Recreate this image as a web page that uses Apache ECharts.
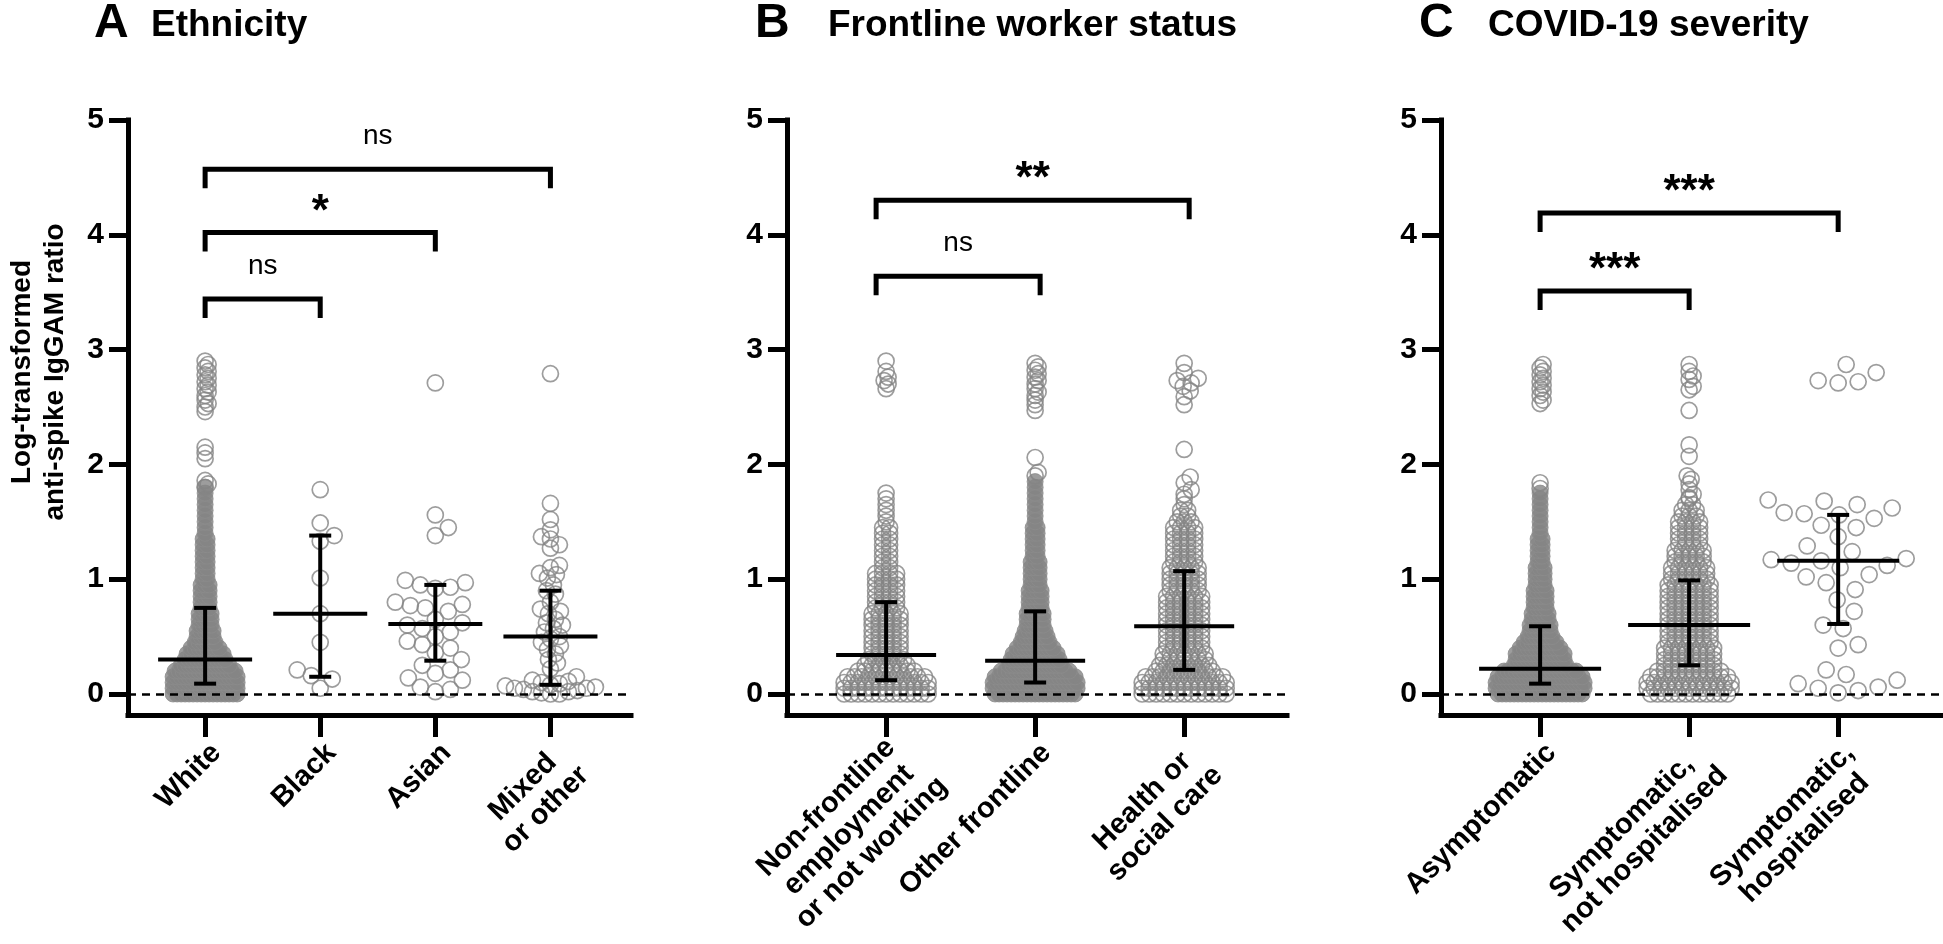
<!DOCTYPE html>
<html>
<head>
<meta charset="utf-8">
<script src="https://cdn.jsdelivr.net/npm/echarts@6/dist/echarts.min.js"></script>
<style>
html,body{margin:0;padding:0;background:#fff;}
#c{width:1943px;height:944px;}
</style>
</head>
<body>
<div id="c"></div>
<script>
// ================= DATA =================
const ethnicityCategories = ['White', 'Black', 'Asian', 'Mixed\nor other'];
const frontlineCategories = ['Non-frontline\nemployment\nor not working', 'Other frontline', 'Health or\nsocial care'];
const severityCategories = ['Asymptomatic', 'Symptomatic,\nnot hospitalised', 'Symptomatic,\nhospitalised'];
const yTickValues = [0, 1, 2, 3, 4, 5];
const yAxisTitle = 'Log-transformed\nanti-spike IgGAM ratio';
const panelLetters = ['A', 'B', 'C'];
const panelTitles = ['Ethnicity', 'Frontline worker status', 'COVID-19 severity'];

// value of each row of the dense swarms
const swarmLevels = [0.00,0.05,0.10,0.15,0.20,0.25,0.30,0.35,0.40,0.45,0.50,0.55,0.60,0.65,0.70,0.75,0.80,0.85,0.90,0.95,
                     1.00,1.05,1.10,1.15,1.20,1.25,1.30,1.35,1.40,1.45,1.50,1.55,1.60,1.65,1.70,1.75,1.80,1.85];
// circles across each row
const whiteRows          = [17,17,17,17,16,13,11,10,8,6,5,5,4,4,4,3,3,3,3,3,2,2,2,2,2,2,2,2,1,1,1,1,1,1,1,1,1,0];
const otherFrontlineRows = [21,22,22,21,18,14,13,12,10,8,7,6,5,5,5,4,4,4,4,3,3,3,3,3,2,2,2,2,2,2,1,1,1,1,1,1,1,1];
const asymptomaticRows   = [22,23,23,22,19,14,13,13,11,9,7,6,6,5,5,4,4,4,4,3,3,3,3,2,2,2,2,2,1,1,1,1,1,1,1,1,0,0];
const nonFrontlineRows   = [13,13,13,12,9,7,6,5,5,5,5,5,5,5,5,4,4,4,4,4,4,4,2,2,2,2,2,2,2,2,1,1,1,1,1,0,0,0];
const healthCareRows     = [13,13,13,12,9,8,7,7,6,6,6,6,6,6,6,6,6,6,5,5,5,5,5,4,4,4,4,4,4,4,3,2,2,1,1,0,0,0];
const sympNotHospRows    = [12,13,13,12,10,8,8,8,8,7,7,7,7,7,7,7,7,7,7,7,6,6,6,5,5,5,4,4,4,4,4,3,3,2,1,0,0,0];

// individually visible points
const whitePoints = [1.80,1.83,1.86,2.05,2.10,2.15,2.46,2.50,2.53,2.56,2.60,2.63,2.66,2.69,2.72,2.75,2.78,2.81,2.84,2.87,2.90];
const blackPoints = [0.05,0.13,0.16,0.21,0.45,0.70,1.01,1.33,1.38,1.49,1.78];
const asianPoints = [0.02,0.04,0.06,0.12,0.14,0.18,0.21,0.25,0.30,0.36,0.40,0.43,0.46,0.50,0.54,0.57,0.60,0.62,0.65,
                     0.72,0.75,0.77,0.78,0.80,0.92,0.93,0.95,0.97,0.99,1.38,1.45,1.56,2.71];
const mixedPoints = [0.00,0.00,0.01,0.02,0.02,0.03,0.04,0.05,0.05,0.06,0.07,0.08,0.09,0.10,0.11,0.12,0.15,
                     0.22,0.27,0.30,0.35,0.39,0.42,0.45,0.48,0.50,0.54,0.57,0.60,0.62,0.65,0.70,0.72,0.74,0.80,0.87,
                     0.90,0.95,1.01,1.04,1.05,1.10,1.12,1.27,1.30,1.35,1.37,1.43,1.52,1.66,2.79];
const nonFrontlinePoints = [1.75,2.66,2.70,2.73,2.76,2.81,2.90];
const otherFrontlinePoints = [1.90,1.93,2.06,2.47,2.52,2.56,2.60,2.63,2.66,2.70,2.73,2.76,2.79,2.82,2.85,2.88];
const healthCarePoints = [1.74,1.78,1.84,1.89,2.13,2.52,2.59,2.64,2.68,2.71,2.73,2.75,2.80,2.88];
const asymptomaticPoints = [1.79,1.84,2.53,2.56,2.60,2.63,2.66,2.69,2.72,2.75,2.78,2.81,2.84,2.87];
const sympNotHospPoints = [1.71,1.74,1.78,1.83,1.87,1.90,2.07,2.17,2.47,2.65,2.68,2.74,2.77,2.81,2.87];
const sympHospPoints = [0.01,0.03,0.05,0.06,0.09,0.12,0.17,0.21,0.40,0.43,0.57,0.60,0.72,0.82,0.91,0.97,1.02,1.04,
                        1.10,1.12,1.14,1.16,1.17,1.18,1.24,1.29,1.37,1.45,1.47,1.53,1.56,1.57,1.58,1.62,1.65,1.68,1.69,
                        2.71,2.72,2.73,2.80,2.87];

// [median, lower, upper]
const ethnicitySummary = [[0.30,0.09,0.75],[0.70,0.15,1.38],[0.61,0.29,0.95],[0.50,0.08,0.90]];
const frontlineSummary = [[0.34,0.12,0.80],[0.29,0.10,0.72],[0.59,0.21,1.07]];
const severitySummary  = [[0.22,0.09,0.59],[0.60,0.25,0.99],[1.16,0.61,1.56]];

// [from category, to category, height, label]
const ethnicityBrackets = [[1,2,3.44,'ns'],[1,3,4.02,'*'],[1,4,4.57,'ns']];
const frontlineBrackets = [[1,2,3.64,'ns'],[1,3,4.30,'**']];
const severityBrackets  = [[1,2,3.51,'***'],[1,3,4.19,'***']];

// ================= LAYOUT / STYLE =================
const W = 1943, H = 944;
const FONT = '"Liberation Sans", Arial, sans-serif';
const GRID_TOP = 120, AXIS_Y = 715;
const Y_MIN = -0.183, Y_MAX = 5;
const panels = [
  {cats: ethnicityCategories, summary: ethnicitySummary, brackets: ethnicityBrackets,
   left: 128, right: 631, xMin: 0.33, xMax: 4.70, medianHalf: 47, bracketPad: 0,
   letterX: 94, titleX: 151, labelMargins: [22, 22, 22, 22],
   groups: [
     {rows: whiteRows, rowKind: 'solid', points: whitePoints, minDist: 4},
     {rows: null, points: blackPoints, minDist: 15},
     {rows: null, points: asianPoints, minDist: 15},
     {rows: null, points: mixedPoints, minDist: 9}
   ]},
  {cats: frontlineCategories, summary: frontlineSummary, brackets: frontlineBrackets,
   left: 787, right: 1287, xMin: 0.335, xMax: 3.69, medianHalf: 50, bracketPad: 10,
   letterX: 755, titleX: 828, labelMargins: [10, 22, 22],
   groups: [
     {rows: nonFrontlineRows, rowKind: 'ring', points: nonFrontlinePoints, minDist: 5},
     {rows: otherFrontlineRows, rowKind: 'solid', points: otherFrontlinePoints, minDist: 4},
     {rows: healthCareRows, rowKind: 'ring', points: healthCarePoints, minDist: 8}
   ]},
  {cats: severityCategories, summary: severitySummary, brackets: severityBrackets,
   left: 1441, right: 1941, xMin: 0.335, xMax: 3.69, medianHalf: 61, bracketPad: 0,
   letterX: 1419, titleX: 1488, labelMargins: [22, 22, 22],
   groups: [
     {rows: asymptomaticRows, rowKind: 'solid', points: asymptomaticPoints, minDist: 4},
     {rows: sympNotHospRows, rowKind: 'ring', points: sympNotHospPoints, minDist: 5},
     {rows: null, points: sympHospPoints, minDist: 20}
   ]}
];
const SYMBOL = 16;
const RING_STYLE = {color: 'rgba(0,0,0,0)', borderColor: '#858585', borderWidth: 1.7};
const SOLID_STYLE = {color: '#858585', borderColor: '#8c8c8c', borderWidth: 1};
const SPACING = {solid: 4, ring: 7};
const LABEL_RICH = {c: {fontSize: 29, fontWeight: 'bold', fontFamily: FONT, color: '#000', lineHeight: 32, align: 'center'}};

const chart = echarts.init(document.getElementById('c'), null, {width: W, height: H, renderer: 'canvas'});

const ky = (AXIS_Y - GRID_TOP) / (Y_MAX - Y_MIN);

function rowsToPoints(rows, center, kx, spacing) {
  const pts = [];
  rows.forEach((n, i) => {
    for (let j = 0; j < n; j++) pts.push([center + (j - (n - 1) / 2) * spacing / kx, swarmLevels[i]]);
  });
  return pts;
}
function swarm(values, center, kx, minDist) {
  const sorted = values.slice().sort((a, b) => a - b);
  const placed = [], out = [];
  for (const v of sorted) {
    const py = v * ky;
    let off = 0;
    for (let k = 0; k < 600; k++) {
      const cand = k === 0 ? 0 : (k % 2 ? Math.ceil(k / 2) : -k / 2);
      let ok = true;
      for (const p of placed) {
        const dx = p[0] - cand, dy = p[1] - py;
        if (dx * dx + dy * dy < minDist * minDist) { ok = false; break; }
      }
      if (ok) { off = cand; break; }
    }
    placed.push([off, py]);
    out.push([center + off / kx, v]);
  }
  return out;
}

const grids = [], xAxes = [], yAxes = [], series = [], graphics = [];
panels.forEach((p, i) => {
  const kx = (p.right - p.left) / (p.xMax - p.xMin);
  const ticks = p.cats.map((c, k) => k + 1);
  grids.push({left: p.left, width: p.right - p.left, top: GRID_TOP, height: AXIS_Y - GRID_TOP, containLabel: false, outerBoundsMode: 'none'});
  const mainX = xAxes.length;
  xAxes.push({
    type: 'value', gridIndex: i, position: 'bottom', min: p.xMin, max: p.xMax, splitLine: {show: false},
    axisLine: {show: true, onZero: false, lineStyle: {color: '#000', width: 5, cap: 'square'}},
    axisTick: {show: true, customValues: ticks, length: 22, lineStyle: {color: '#000', width: 5}},
    axisLabel: {show: false}
  });
  // one label-only axis per category, so no label is hidden for overlapping its neighbour
  p.cats.forEach((cat, k) => {
    xAxes.push({
      type: 'value', gridIndex: i, position: 'bottom', min: p.xMin, max: p.xMax, splitLine: {show: false},
      axisLine: {show: false, onZero: false}, axisTick: {show: false},
      axisLabel: {
        show: true, customValues: [k + 1], rotate: 45, align: 'right', verticalAlign: 'top',
        margin: p.labelMargins[k], showMinLabel: true, showMaxLabel: true,
        formatter: () => cat.split('\n').map(s => '{c|' + s + '}').join('\n'),
        rich: LABEL_RICH
      }
    });
  });
  yAxes.push({
    type: 'value', gridIndex: i, min: Y_MIN, max: Y_MAX, splitLine: {show: false},
    axisLine: {show: true, onZero: false, lineStyle: {color: '#000', width: 5, cap: 'square'}},
    axisTick: {show: true, customValues: yTickValues, length: 19, lineStyle: {color: '#000', width: 5}},
    axisLabel: {show: true, customValues: yTickValues, margin: 24, fontSize: 30, fontWeight: 'bold', fontFamily: FONT, color: '#000',
                showMinLabel: true, showMaxLabel: true}
  });
  // zero dashed line
  series.push({
    type: 'scatter', xAxisIndex: mainX, yAxisIndex: i, data: [], z: 1, silent: true,
    markLine: {silent: true, symbol: ['none', 'none'], label: {show: false},
      lineStyle: {color: '#000', width: 2.6, type: [8, 6]}, emphasis: {disabled: true},
      data: [{yAxis: 0}]}
  });
  p.groups.forEach((g, k) => {
    const center = k + 1;
    if (g.rows) {
      series.push({
        type: 'scatter', xAxisIndex: mainX, yAxisIndex: i, z: 2, silent: true,
        symbol: 'circle', symbolSize: SYMBOL,
        itemStyle: g.rowKind === 'solid' ? SOLID_STYLE : RING_STYLE,
        data: rowsToPoints(g.rows, center, kx, SPACING[g.rowKind])
      });
    }
    series.push({
      type: 'scatter', xAxisIndex: mainX, yAxisIndex: i, z: 3, silent: true,
      symbol: 'circle', symbolSize: SYMBOL, itemStyle: RING_STYLE,
      data: swarm(g.points, center, kx, g.minDist)
    });
  });
  // median + error bars
  series.push({
    type: 'custom', xAxisIndex: mainX, yAxisIndex: i, z: 10, silent: true,
    data: p.summary.map((s, k) => [k + 1, s[0], s[1], s[2]]),
    renderItem: (params, api) => {
      const x = api.value(0);
      const pm = api.coord([x, api.value(1)]), pl = api.coord([x, api.value(2)]), ph = api.coord([x, api.value(3)]);
      const hw = p.medianHalf, cap = 11;
      const st = {stroke: '#000', lineWidth: 4};
      return {type: 'group', children: [
        {type: 'line', shape: {x1: pm[0] - hw, y1: pm[1], x2: pm[0] + hw, y2: pm[1]}, style: st},
        {type: 'line', shape: {x1: pl[0], y1: pl[1], x2: ph[0], y2: ph[1]}, style: st},
        {type: 'line', shape: {x1: pl[0] - cap, y1: pl[1], x2: pl[0] + cap, y2: pl[1]}, style: st},
        {type: 'line', shape: {x1: ph[0] - cap, y1: ph[1], x2: ph[0] + cap, y2: ph[1]}, style: st}
      ]};
    }
  });
  // significance brackets
  series.push({
    type: 'custom', xAxisIndex: mainX, yAxisIndex: i, z: 10, silent: true, clip: false,
    data: p.brackets.map(b => [b[0], b[1], b[2]]),
    renderItem: (params, api) => {
      const label = p.brackets[params.dataIndex][3];
      const a = api.coord([api.value(0), api.value(2)]), b = api.coord([api.value(1), api.value(2)]);
      const x1 = a[0] - p.bracketPad, x2 = b[0] + p.bracketPad / 2, y = a[1], drop = 19;
      const isStar = label.indexOf('*') >= 0;
      return {type: 'group', children: [
        {type: 'polyline', shape: {points: [[x1, y + drop], [x1, y], [x2, y], [x2, y + drop]]},
         style: {stroke: '#000', lineWidth: 5, fill: null, lineJoin: 'miter'}},
        {type: 'text', style: {text: label, x: (x1 + x2) / 2, y: y - (isStar ? 20 : 33),
          align: 'center', verticalAlign: 'middle', fill: '#000',
          font: (isStar ? 'bold 44px ' : 'normal 28px ') + FONT}}
      ]};
    }
  });
  // titles
  graphics.push({type: 'text', x: p.letterX, y: 24, style: {text: panelLetters[i], font: 'bold 48px ' + FONT, fill: '#000', align: 'left', verticalAlign: 'middle'}});
  graphics.push({type: 'text', x: p.titleX, y: 26, style: {text: panelTitles[i], font: 'bold 37px ' + FONT, fill: '#000', align: 'left', verticalAlign: 'middle'}});
});
graphics.push({type: 'text', x: 39, y: 372, rotation: Math.PI / 2,
  style: {text: yAxisTitle, font: 'bold 28px ' + FONT, lineHeight: 33, fill: '#000', align: 'center', verticalAlign: 'middle'}});

chart.setOption({
  animation: false,
  backgroundColor: '#fff',
  grid: grids, xAxis: xAxes, yAxis: yAxes, series: series, graphic: graphics
});
</script>
</body>
</html>
